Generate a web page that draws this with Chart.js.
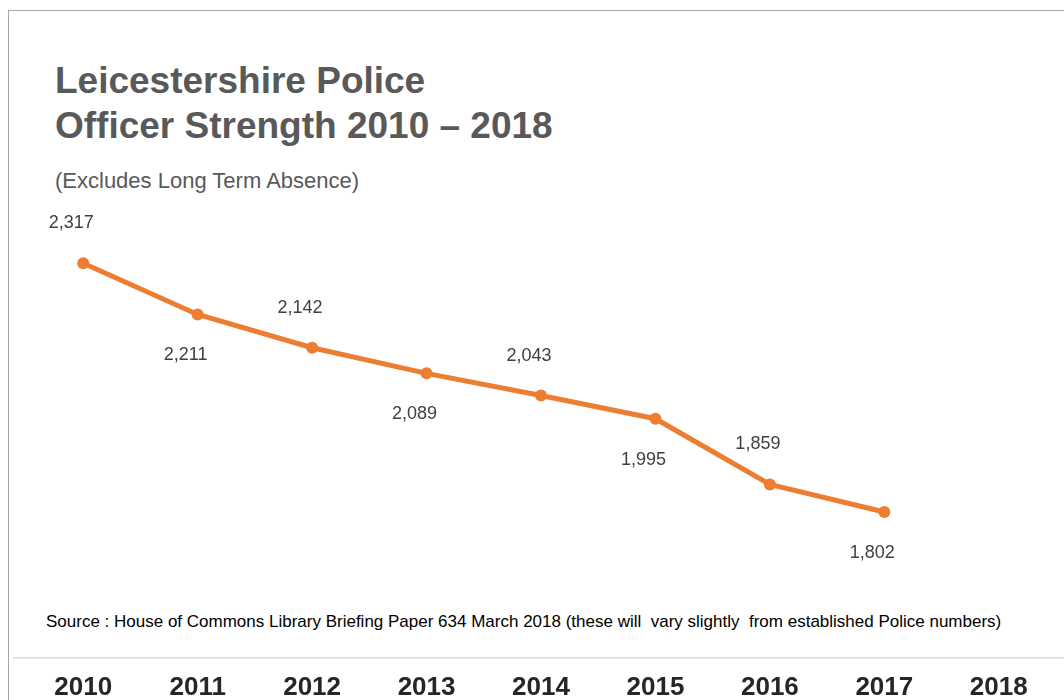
<!DOCTYPE html>
<html>
<head>
<meta charset="utf-8">
<script src="https://cdn.jsdelivr.net/npm/chart.js@4.4.1/dist/chart.umd.min.js"></script>
<style>
  html, body { margin: 0; padding: 0; background: #fff; overflow: hidden; }
  body { width: 1064px; height: 700px; position: relative; font-family: "Liberation Sans", Arial, sans-serif; }
  .frame { position: absolute; left: 8px; top: 10px; width: 1100px; height: 760px; border: 1px solid #a6a6a6; }
  .title { position: absolute; left: 55px; top: 58px; font-size: 37px; font-weight: bold; color: #595959; line-height: 45px; }
  .subtitle { position: absolute; left: 55px; top: 168px; font-size: 22px; color: #595959; }
  .source { position: absolute; left: 46px; top: 612px; font-size: 17px; color: #000; }
  canvas { position: absolute; left: 0; top: 0; }
</style>
</head>
<body>
<div class="frame"></div>
<div class="title">Leicestershire Police<br>Officer Strength 2010 – 2018</div>
<div class="subtitle">(Excludes Long Term Absence)</div>
<div class="source">Source : House of Commons Library Briefing Paper 634 March 2018 (these will&nbsp; vary slightly&nbsp; from established Police numbers)</div>
<canvas id="chart" width="1064" height="717"></canvas>
<script>
// Années et effectifs (2018 sans valeur)
const years = ['2010', '2011', '2012', '2013', '2014', '2015', '2016', '2017', '2018'];
const officers = [2317, 2211, 2142, 2089, 2043, 1995, 1859, 1802, null];

const orange = '#ED7D31';

// Étiquettes de valeurs, alternées au-dessus / en dessous
const valueLabels = {
  id: 'valueLabels',
  afterDatasetsDraw(chart) {
    const ctx = chart.ctx;
    const meta = chart.getDatasetMeta(0);
    ctx.save();
    ctx.font = '18px "Liberation Sans", Arial, sans-serif';
    ctx.fillStyle = '#404040';
    ctx.textAlign = 'center';
    ctx.textBaseline = 'middle';
    meta.data.forEach((pt, i) => {
      const v = officers[i];
      if (v === null) return;
      const dy = i % 2 === 0 ? -40 : 41;
      ctx.fillText(v.toLocaleString('en-GB'), pt.x - 12, pt.y + dy);
    });
    ctx.restore();
  },
};

// Ligne de l'axe sur toute la largeur
const axisLine = {
  id: 'axisLine',
  afterDraw(chart) {
    const ctx = chart.ctx;
    const y = chart.scales.x.top;
    ctx.save();
    ctx.strokeStyle = '#d9d9d9';
    ctx.lineWidth = 1.5;
    ctx.beginPath();
    ctx.moveTo(13, y);
    ctx.lineTo(chart.width, y);
    ctx.stroke();
    ctx.restore();
  },
};

new Chart(document.getElementById('chart'), {
  type: 'line',
  data: {
    labels: years,
    datasets: [{
      data: officers,
      borderColor: orange,
      backgroundColor: orange,
      borderWidth: 5,
      pointRadius: 6,
      pointBorderWidth: 0,
      tension: 0,
      clip: false,
    }],
  },
  options: {
    responsive: false,
    animation: false,
    layout: { padding: { left: 26, right: 8, top: 199, bottom: 0 } },
    plugins: { legend: { display: false }, tooltip: { enabled: false }, title: { display: false } },
    scales: {
      y: { display: false, min: 1500, max: 2450 },
      x: {
        offset: true,
        grid: { display: false, drawTicks: false },
        border: { display: false },
        ticks: {
          padding: 14,
          color: '#262626',
          font: { family: '"Liberation Sans", Arial, sans-serif', size: 26, weight: 'bold' },
        },
      },
    },
  },
  plugins: [valueLabels, axisLine],
});
</script>
</body>
</html>
